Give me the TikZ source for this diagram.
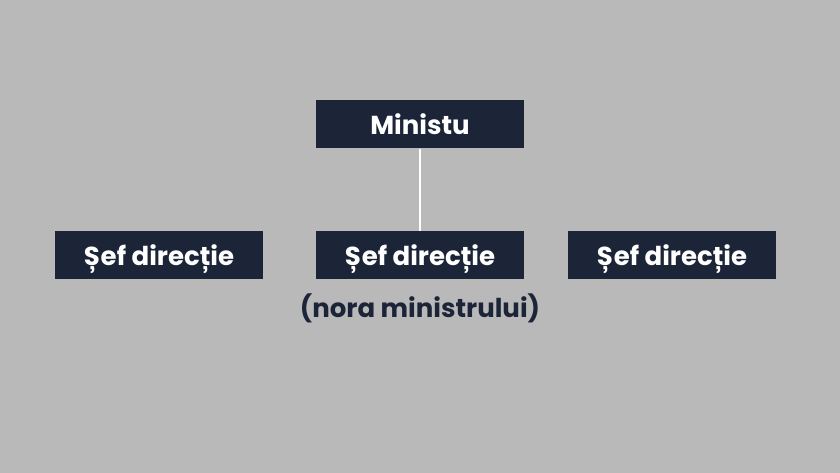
\documentclass[tikz,border=0pt]{standalone}
\usepackage{fontspec}
\setmainfont{Poppins}
\definecolor{fundal}{HTML}{B9B9B9}
\definecolor{cutie}{HTML}{1C2538}
\tikzset{
	post/.style={fill=cutie, text=white, minimum width=208pt, inner sep=0pt, text height=34pt, text depth=14pt, font=\fontsize{26}{30}\selectfont\bfseries},
}

\begin{document}
\begin{tikzpicture}[x=1pt, y=-1pt]
	\fill[color=fundal] (0,0) rectangle (840,473);
	\useasboundingbox (0,0) rectangle (840,473);
	\node[post] (ministru) at (420,124.5) {Ministu};
	\node[post] (sefA) at (159,255) {Șef direcție};
	\node[post] (sefB) at (420,255) {Șef direcție};
	\node[post] (sefC) at (672,255) {Șef direcție};
	\node[text=cutie, font=\fontsize{26}{30}\selectfont\bfseries] (nora) at (420,308) {(nora ministrului)};
	\draw[white, line width=2pt] (ministru.south)--(sefB.north);
\end{tikzpicture}
\end{document}
